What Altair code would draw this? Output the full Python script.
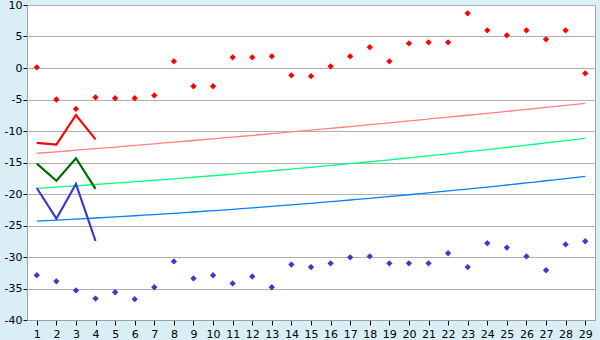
import altair as alt
import pandas as pd

days = list(range(1, 30))

upper_pts = [0.1, -5.0, -6.5, -4.65, -4.8, -4.8, -4.35, 1.06, -2.9, -2.9,
             1.7, 1.7, 1.85, -1.16, -1.3, 0.27, 1.85, 3.3, 1.06, 3.9,
             4.07, 4.07, 8.68, 5.98, 5.19, 5.98, 4.55, 5.98, -0.85]
lower_pts = [-32.9, -33.86, -35.3, -36.6, -35.6, -36.7, -34.8, -30.7, -33.4, -32.9,
             -34.2, -33.1, -34.8, -31.2, -31.6, -31.0, -30.05, -29.9, -31.0, -31.0,
             -31.0, -29.4, -31.6, -27.8, -28.5, -29.9, -32.1, -28.0, -27.5]

pink_line = [-13.54, -13.30, -13.05, -12.80, -12.55, -12.29, -12.03, -11.77, -11.51, -11.24,
             -10.97, -10.70, -10.42, -10.14, -9.86, -9.57, -9.29, -9.00, -8.70, -8.40,
             -8.10, -7.80, -7.50, -7.19, -6.88, -6.56, -6.24, -5.92, -5.60]
green_line = [-19.10, -18.90, -18.70, -18.49, -18.27, -18.05, -17.82, -17.59, -17.34, -17.10,
              -16.84, -16.58, -16.31, -16.04, -15.76, -15.47, -15.18, -14.88, -14.57, -14.26,
              -13.94, -13.62, -13.29, -12.95, -12.60, -12.25, -11.89, -11.53, -11.16]
blue_line = [-24.29, -24.14, -23.98, -23.81, -23.63, -23.45, -23.26, -23.07, -22.86, -22.65,
             -22.43, -22.20, -21.97, -21.72, -21.48, -21.22, -20.95, -20.68, -20.40, -20.12,
             -19.82, -19.52, -19.21, -18.90, -18.57, -18.24, -17.90, -17.56, -17.20]

short_days = [1, 2, 3, 4]
short_red = [-11.9, -12.17, -7.46, -11.32]
short_green = [-15.19, -17.89, -14.33, -19.2]
short_blue = [-19.05, -23.92, -18.4, -27.46]

pts = pd.DataFrame({
    "day": days * 2,
    "value": upper_pts + lower_pts,
    "series": ["upper"] * 29 + ["lower"] * 29,
})
trend = pd.DataFrame({
    "day": days * 3,
    "value": pink_line + green_line + blue_line,
    "series": ["pink"] * 29 + ["green"] * 29 + ["blue"] * 29,
})
short = pd.DataFrame({
    "day": short_days * 3,
    "value": short_red + short_green + short_blue,
    "series": ["sred"] * 4 + ["sgreen"] * 4 + ["sblue"] * 4,
})

x = alt.X("day:Q", scale=alt.Scale(domain=[0.5, 29.5], nice=False, zero=False),
          axis=alt.Axis(values=days, title=None, grid=False, tickColor="#000000",
                        tickSize=5, domainColor="#a0a0a0", labelFont="DejaVu Sans",
                        labelFontSize=11, labelColor="#000000", labelPadding=3))
y = alt.Y("value:Q", scale=alt.Scale(domain=[-40, 10], nice=False, zero=False),
          axis=alt.Axis(values=list(range(-40, 11, 5)), title=None, grid=True,
                        gridColor="#b0b0b0", gridWidth=1, tickColor="#000000",
                        tickSize=4, domainColor="#a0a0a0", labelFont="DejaVu Sans",
                        labelFontSize=11, labelColor="#000000", labelPadding=1,
                        labelExpr="replace(datum.label, '\u2212', '-')"))

pt_colors = alt.Scale(domain=["upper", "lower"], range=["#ff0000", "#3a3acc"])
tr_colors = alt.Scale(domain=["pink", "green", "blue"], range=["#ff8080", "#00ff80", "#0080ff"])
sh_colors = alt.Scale(domain=["sred", "sgreen", "sblue"], range=["#ff0000", "#006a00", "#3a3acc"])

trend_layer = alt.Chart(trend).mark_line(strokeWidth=1.3, interpolate="monotone").encode(
    x=x, y=y, color=alt.Color("series:N", scale=tr_colors, legend=None), detail="series:N")
short_layer = alt.Chart(short).mark_line(strokeWidth=2.2).encode(
    x=x, y=y, color=alt.Color("series:N", scale=sh_colors, legend=None), detail="series:N")
pt_layer = alt.Chart(pts).mark_point(shape="diamond", filled=True, size=40, opacity=1).encode(
    x=x, y=y, color=alt.Color("series:N", scale=pt_colors, legend=None))

chart = alt.layer(trend_layer, short_layer, pt_layer).resolve_scale(color="independent").properties(
    width=568, height=315, background="#d9eef5",
    padding={"left": 27, "top": 5, "right": 5, "bottom": 20},
    autosize=alt.AutoSizeParams(type="none"),
).configure_view(fill="#ffffff", stroke="#a0a0a0", strokeWidth=1)

chart.save("out.html", embed_options={"renderer": "svg", "actions": False})
